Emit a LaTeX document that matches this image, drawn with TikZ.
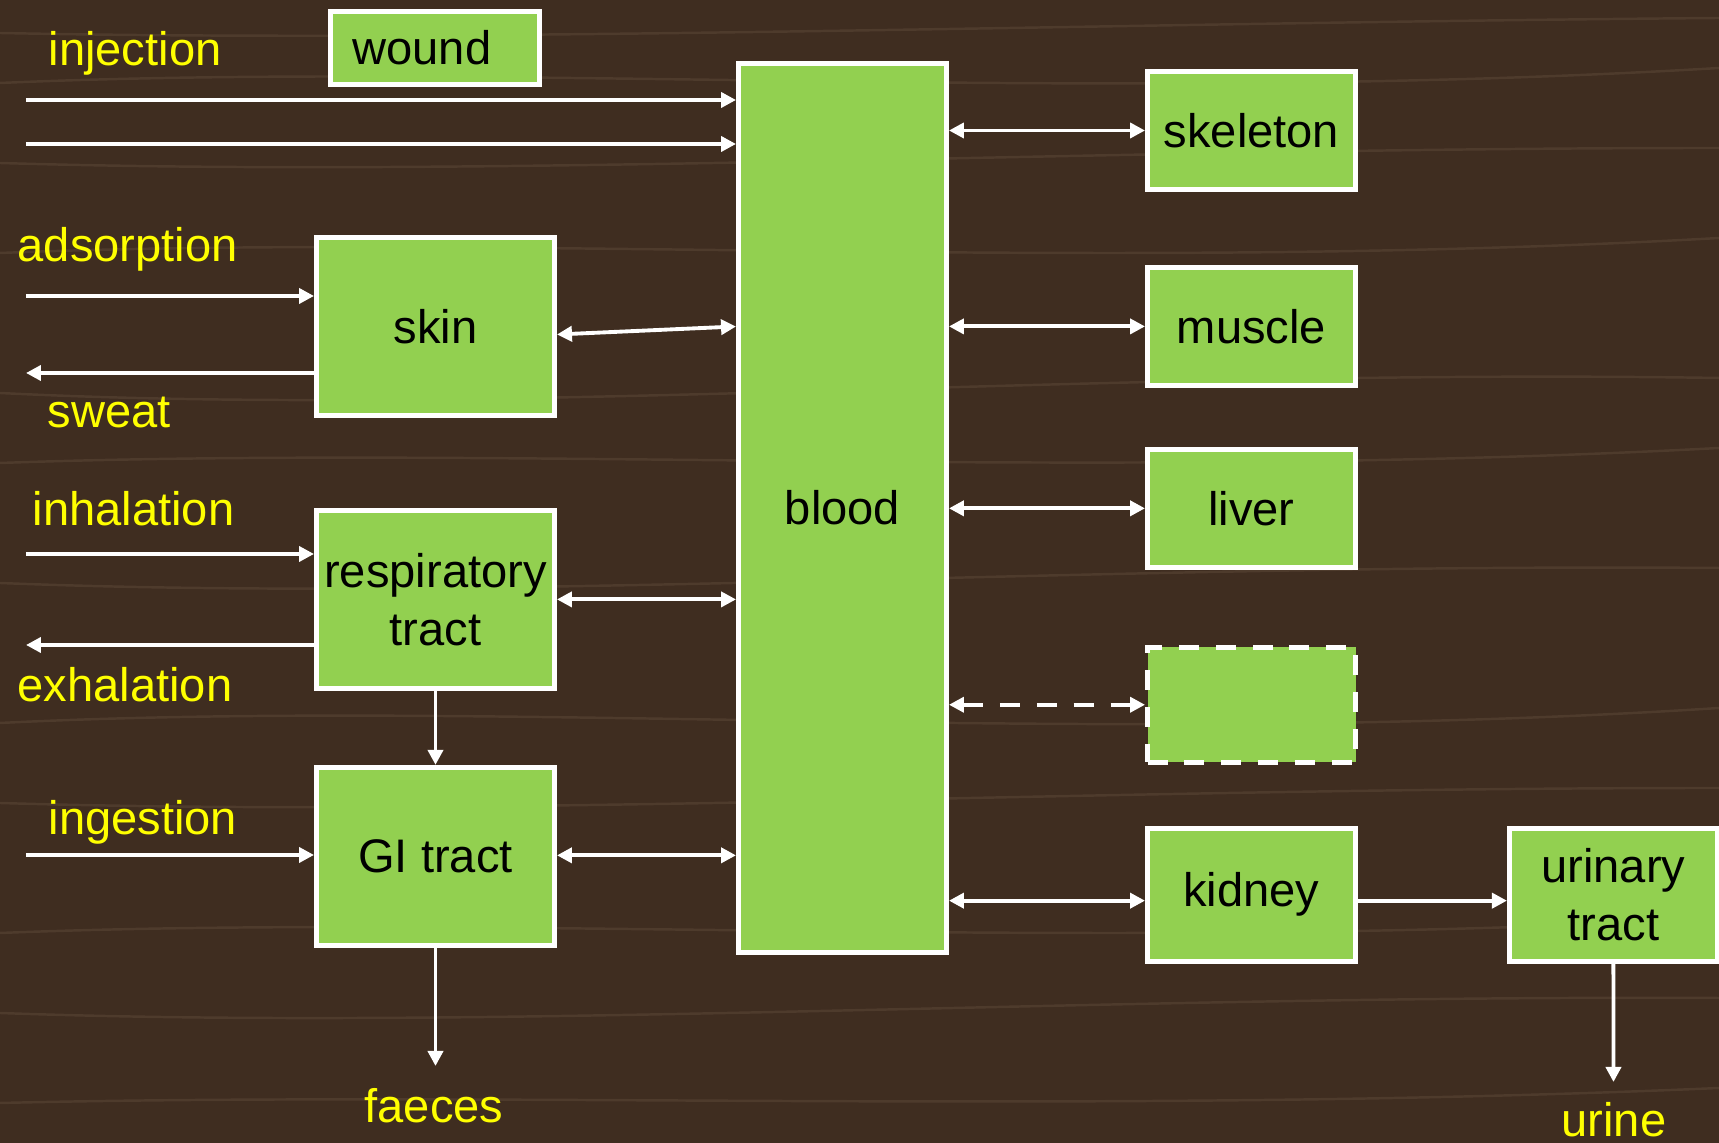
\documentclass[tikz,border=0pt]{standalone}
\usepackage{fontspec}
\setmainfont{Liberation Sans}
\usetikzlibrary{arrows.meta,positioning}
\definecolor{wood}{HTML}{3F2D20}
\definecolor{grainc}{HTML}{6B5644}
\definecolor{leaf}{HTML}{92D050}
\definecolor{lbly}{HTML}{FFFF00}
\tikzset{
  >={Triangle[length=1.5mm, width=1.5mm]},
  organ/.style={rectangle, draw=white, fill=leaf, line width=1.4pt, align=center,
                minimum width=20.8mm, minimum height=11.8mm, inner sep=1pt,
                font=\fontsize{13.4}{16.5}\selectfont},
  port/.style={organ, minimum width=23.8mm, minimum height=17.8mm},
  flow/.style={->, line width=1.1pt, draw=white},
  swap/.style={<->, line width=1.1pt, draw=white},
  route/.style={font=\fontsize{13.4}{16.5}\selectfont, text=lbly, inner sep=0pt},
  grain/.style={draw=grainc, line width=0.7pt, opacity=0.35},
}

\begin{document}
\begin{tikzpicture}
  % wood background
  \fill[wood] (0,0) rectangle (17.19,11.43);
  \useasboundingbox (0,0) rectangle (17.19,11.43);
  \foreach \y/\d in {0.4/0.12, 1.3/-0.18, 2.1/0.2, 3.4/-0.15, 4.2/0.25, 5.6/-0.2,
                     6.8/0.18, 7.5/-0.25, 8.9/0.2, 9.8/-0.15, 10.6/0.22, 11.1/-0.1}
    \draw[grain] (0,\y) .. controls (5,\y+\d) and (11,\y-\d) .. (17.19,\y+0.15);

  % central compartment
  \node[organ, minimum height=88.9mm] (blood) at (8.425,6.35) {blood};

  % entry side
  \node[organ, minimum width=20.9mm, minimum height=7.3mm] (wound) at (4.35,10.95) {wound\hspace{2.6mm}};
  \node[port] (skin) at (4.355,8.165) {skin};
  \node[port, below=9mm of skin] (resp) {respiratory\\tract};
  \node[port, below=7.4mm of resp] (gi) {GI tract};

  % organs
  \node[organ] (skeleton) at (12.515,10.125) {skeleton};
  \node[organ, below=7.3mm of skeleton] (muscle) {muscle};
  \node[organ, below=5.9mm of muscle] (liver) {liver};
  \node[organ, dashed, dash pattern=on 5.7pt off 4.8pt, minimum height=11.5mm,
        below=7.5mm of liver] (other) {};
  \node[organ, minimum height=13.3mm, below=6.1mm of other] (kidney) {kidney};
  \node[organ, minimum height=13.3mm, right=14.9mm of kidney] (urinary) {urinary\\tract};

  % route labels
  \node[route, anchor=base west] (injection) at (0.48,10.77) {injection};
  \node[route, anchor=base west] (adsorption) at (0.17,8.81) {adsorption};
  \node[route, anchor=base west] (sweat) at (0.47,7.15) {sweat};
  \node[route, anchor=base west] (inhalation) at (0.32,6.17) {inhalation};
  \node[route, anchor=base west] (exhalation) at (0.17,4.41) {exhalation};
  \node[route, anchor=base west] (ingestion) at (0.48,3.08) {ingestion};
  \node[route, anchor=base] (faeces) at (4.34,0.20) {faeces};
  \node[route, anchor=base] (urine) at (16.14,0.06) {urine};

  % free ends
  \coordinate (inj1) at (0.26,10.43);
  \coordinate (inj2) at (0.26,9.99);
  \coordinate (adin) at (0.26,8.47);
  \coordinate (swout) at (0.26,7.70);
  \coordinate (inhin) at (0.26,5.89);
  \coordinate (exout) at (0.26,4.98);
  \coordinate (ingin) at (0.26,2.88);
  \coordinate (faout) at (4.355,0.77);
  \coordinate (urout) at (16.135,0.61);

  % intake and loss
  \draw[flow] (inj1) -- (inj1 -| blood.west);
  \draw[flow] (inj2) -- (inj2 -| blood.west);
  \draw[flow] (adin) -- (adin -| skin.west);
  \draw[flow] (swout -| skin.west) -- (swout);
  \draw[flow] (inhin) -- (inhin -| resp.west);
  \draw[flow] (exout -| resp.west) -- (exout);
  \draw[flow] (ingin) -- (ingin -| gi.west);
  \draw[flow] (resp.south) -- (gi.north);
  \draw[flow] (gi.south) -- (faout);

  % exchange with blood
  \draw[swap] ([yshift=-0.8mm]skin.east) -- (blood.west |- skin.east);
  \draw[swap] (resp.east) -- (blood.west |- resp.east);
  \draw[swap] ([yshift=0.1mm]gi.east) -- ([yshift=0.1mm]blood.west |- gi.east);
  \draw[swap] (blood.east |- skeleton.west) -- (skeleton.west);
  \draw[swap] (blood.east |- muscle.west) -- (muscle.west);
  \draw[swap] (blood.east |- liver.west) -- (liver.west);
  \draw[swap, dashed, dash pattern=on 5.7pt off 4.8pt] (blood.east |- other.west) -- (other.west);
  \draw[swap] ([yshift=-0.6mm]blood.east |- kidney.west) -- ([yshift=-0.6mm]kidney.west);

  % excretion
  \draw[flow] ([yshift=-0.6mm]kidney.east) -- ([yshift=-0.6mm]urinary.west);
  \draw[flow] (urinary.south) -- (urout);
\end{tikzpicture}
\end{document}
